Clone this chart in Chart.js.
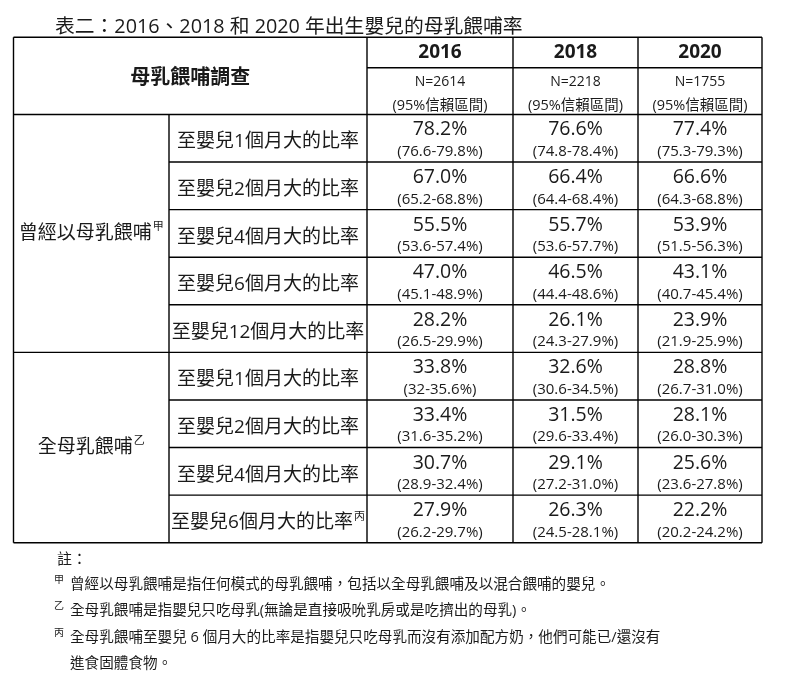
<!DOCTYPE html>
<html>
<head>
<meta charset="utf-8">
<script src="https://cdn.jsdelivr.net/npm/chart.js@4.4.1/dist/chart.umd.min.js"></script>
<style>
html,body{margin:0;padding:0;background:#fff;}
#wrap{width:794px;height:686px;position:relative;background:#fff;}
</style>
</head>
<body>
<div id="wrap"><canvas id="c" width="794" height="686"></canvas></div>
<script>
// ---------- data ----------
const titleText = '表二：2016、2018 和 2020 年出生嬰兒的母乳餵哺率';
const headerLabel = '母乳餵哺調查';
const years = ['2016', '2018', '2020'];
const sampleSizes = ['N=2614', 'N=2218', 'N=1755'];
const ciHeader = '(95%信賴區間)';
const groupLabels = ['曾經以母乳餵哺', '全母乳餵哺'];
const groupMarks = ['甲', '乙'];
const groupRowCounts = [5, 4];
const rowLabels = [
  '至嬰兒1個月大的比率', '至嬰兒2個月大的比率', '至嬰兒4個月大的比率',
  '至嬰兒6個月大的比率', '至嬰兒12個月大的比率',
  '至嬰兒1個月大的比率', '至嬰兒2個月大的比率', '至嬰兒4個月大的比率',
  '至嬰兒6個月大的比率'
];
const rowMarks = ['', '', '', '', '', '', '', '', '丙'];
const rate2016 = [78.2, 67.0, 55.5, 47.0, 28.2, 33.8, 33.4, 30.7, 27.9];
const rate2018 = [76.6, 66.4, 55.7, 46.5, 26.1, 32.6, 31.5, 29.1, 26.3];
const rate2020 = [77.4, 66.6, 53.9, 43.1, 23.9, 28.8, 28.1, 25.6, 22.2];
const ci2016 = ['76.6-79.8', '65.2-68.8', '53.6-57.4', '45.1-48.9', '26.5-29.9', '32-35.6', '31.6-35.2', '28.9-32.4', '26.2-29.7'];
const ci2018 = ['74.8-78.4', '64.4-68.4', '53.6-57.7', '44.4-48.6', '24.3-27.9', '30.6-34.5', '29.6-33.4', '27.2-31.0', '24.5-28.1'];
const ci2020 = ['75.3-79.3', '64.3-68.8', '51.5-56.3', '40.7-45.4', '21.9-25.9', '26.7-31.0', '26.0-30.3', '23.6-27.8', '20.2-24.2'];
const notesHeading = '註：';
const noteMarks = ['甲', '乙', '丙', ''];
const noteLines = [
  '曾經以母乳餵哺是指任何模式的母乳餵哺，包括以全母乳餵哺及以混合餵哺的嬰兒。',
  '全母乳餵哺是指嬰兒只吃母乳(無論是直接吸吮乳房或是吃擠出的母乳)。',
  '全母乳餵哺至嬰兒 6 個月大的比率是指嬰兒只吃母乳而沒有添加配方奶，他們可能已/還沒有',
  '進食固體食物。'
];

// ---------- layout (not data) ----------
const colEdges = [0, 155.5, 353.5, 499.5, 624.5, 748.5];   // table column boundaries, x-scale units
const headerUnits = 1.6225;                                 // header height in row units
const yearRowBottom = -headerUnits + 0.639;
const FONT = '"Open Sans", "Noto Sans CJK TC", sans-serif';
const TEXT = '#1a1a1a';

const rates = [rate2016, rate2018, rate2020];
const cis = [ci2016, ci2018, ci2020];
const nRows = rowLabels.length;

const tablePlugin = {
  id: 'tableDraw',
  afterDraw(chart) {
    const ctx = chart.ctx;
    const xs = chart.scales.x, ys = chart.scales.y;
    const X = v => xs.getPixelForValue(v);
    const Y = v => ys.getPixelForValue(v);
    ctx.save();

    function put(str, x, y, font, align) {
      ctx.font = font; ctx.fillStyle = TEXT; ctx.textAlign = align || 'center';
      ctx.textBaseline = 'alphabetic'; ctx.fillText(str, x, y);
    }
    function putSup(str, sup, cx, y, font, supFont, rise) {
      ctx.font = font; const w1 = ctx.measureText(str).width;
      ctx.font = supFont; const w2 = sup ? ctx.measureText(sup).width + 1 : 0;
      const x0 = cx - (w1 + w2) / 2;
      put(str, x0, y, font, 'left');
      if (sup) put(sup, x0 + w1 + 1, y - rise, supFont, 'left');
    }

    // ---- title ----
    put(titleText, 55, 32.5, '19.8px ' + FONT, 'left');

    // ---- header ----
    const left = X(colEdges[0]), right = X(colEdges[5]);
    const top = Y(-headerUnits), hdrBottom = Y(0), bottom = Y(nRows);
    put(headerLabel, (left + X(colEdges[2])) / 2, (top + hdrBottom) / 2 + 7.8, 'bold 20px ' + FONT);
    const yrB = Y(yearRowBottom);
    years.forEach((yr, j) => {
      const cx = (X(colEdges[j + 2]) + X(colEdges[j + 3])) / 2;
      put(yr, cx, top + 21, 'bold 19px ' + FONT);
      put(sampleSizes[j], cx, yrB + 18.3, '14px ' + FONT);
      put(ciHeader, cx, yrB + 41.8, '14.5px ' + FONT);
    });

    // ---- row labels ----
    rowLabels.forEach((lab, i) => {
      const cx = (X(colEdges[1]) + X(colEdges[2])) / 2;
      const t = Y(i);
      putSup(lab, rowMarks[i], cx, t + 33, '19px ' + FONT, '11px ' + FONT, 8);
    });

    // ---- group labels ----
    let start = 0;
    groupLabels.forEach((g, k) => {
      const cy = (Y(start) + Y(start + groupRowCounts[k])) / 2;
      putSup(g, groupMarks[k], (X(colEdges[0]) + X(colEdges[1])) / 2, cy + 5.4, '19px ' + FONT, '11px ' + FONT, 8.5);
      start += groupRowCounts[k];
    });

    // ---- values from dataset points ----
    chart.data.datasets.forEach((ds, j) => {
      const meta = chart.getDatasetMeta(j);
      meta.data.forEach((pt, i) => {
        const t = Y(i);
        put(rates[j][i].toFixed(1) + '%', pt.x, t + 21, '19.5px ' + FONT);
        put('(' + cis[j][i] + '%)', pt.x, t + 41.5, '15px ' + FONT);
      });
    });

    // ---- grid lines ----
    ctx.strokeStyle = '#000'; ctx.lineWidth = 1.4;
    const line = (x1, y1, x2, y2) => { ctx.beginPath(); ctx.moveTo(x1, y1); ctx.lineTo(x2, y2); ctx.stroke(); };
    line(left, top, right, top);
    line(left, bottom, right, bottom);
    line(left, top, left, bottom);
    line(right, top, right, bottom);
    line(X(colEdges[2]), yrB, right, yrB);
    line(left, hdrBottom, right, hdrBottom);
    for (let k = 2; k <= 4; k++) line(X(colEdges[k]), top, X(colEdges[k]), bottom);
    line(X(colEdges[1]), hdrBottom, X(colEdges[1]), bottom);
    start = 0;
    groupRowCounts.forEach((cnt, k) => {
      for (let r = 1; r < cnt; r++) line(X(colEdges[1]), Y(start + r), right, Y(start + r));
      start += cnt;
      if (k < groupRowCounts.length - 1) line(left, Y(start), right, Y(start));
    });

    // ---- notes ----
    put(notesHeading, 57, 564, '15px ' + FONT, 'left');
    const noteBase = [589, 615, 642, 668];
    noteLines.forEach((ln, i) => {
      if (noteMarks[i]) put(noteMarks[i], 54, noteBase[i] - 6, '10px ' + FONT, 'left');
      put(ln, 70, noteBase[i], '14.6px ' + FONT, 'left');
    });

    ctx.restore();
  }
};

new Chart(document.getElementById('c'), {
  type: 'scatter',
  data: {
    datasets: years.map((yr, j) => ({
      label: yr,
      data: rates[j].map((v, i) => ({ x: (colEdges[j + 2] + colEdges[j + 3]) / 2, y: i + 0.5 })),
      pointRadius: 0,
      pointHoverRadius: 0
    }))
  },
  options: {
    responsive: false,
    devicePixelRatio: 1,
    animation: false,
    events: [],
    layout: { padding: { left: 13.5, right: 32, top: 37.3, bottom: 143.3 } },
    plugins: { legend: { display: false }, tooltip: { enabled: false }, title: { display: false } },
    scales: {
      x: { type: 'linear', display: false, min: colEdges[0], max: colEdges[colEdges.length - 1] },
      y: { type: 'linear', display: false, reverse: true, min: -headerUnits, max: nRows }
    }
  },
  plugins: [tablePlugin]
});
</script>
</body>
</html>
